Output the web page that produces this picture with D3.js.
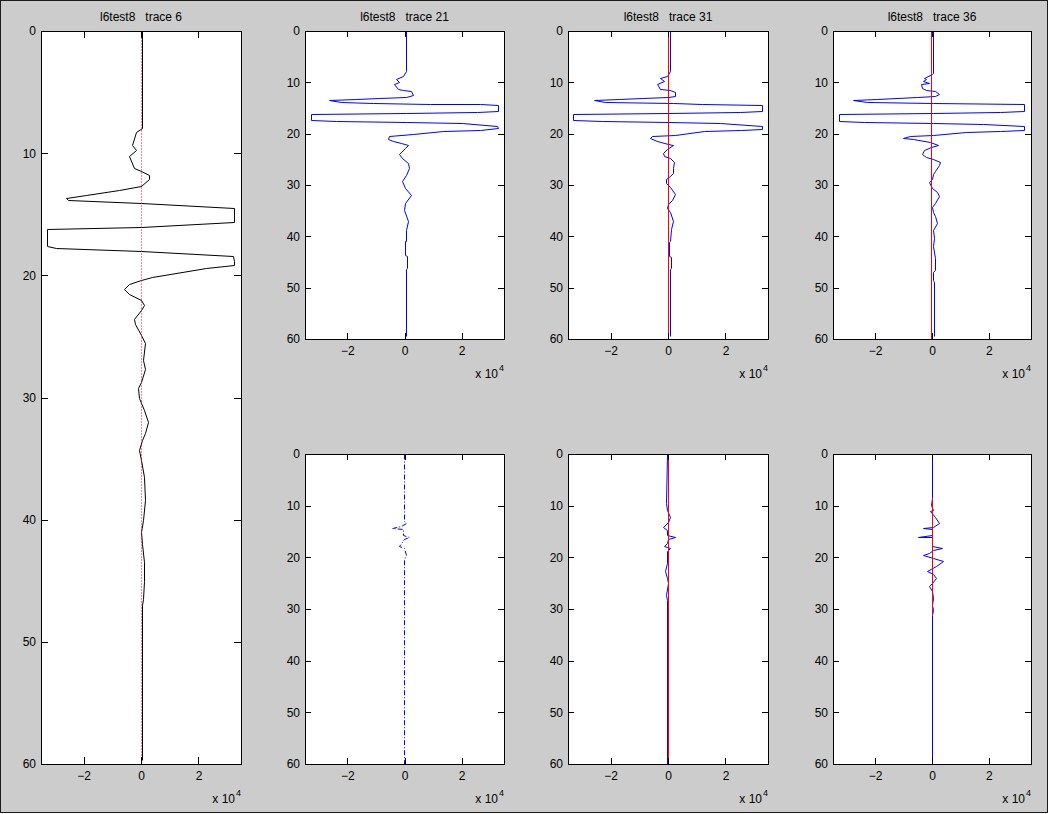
<!DOCTYPE html>
<html><head><meta charset="utf-8">
<script src="https://cdn.jsdelivr.net/npm/d3@7"></script>
<style>
html,body{margin:0;padding:0;background:#fff;}
svg{display:block;}
text{font-family:"Liberation Sans",Arial,sans-serif;fill:#000;}
</style></head><body>
<svg id="c" width="1049" height="814"></svg>
<script>
// ---- data (depth, amplitude in units of 10^4) ----
const xTicks = [-2, 0, 2];
const yTicks = [0, 10, 20, 30, 40, 50, 60];
const xDomain = [-3.48, 3.48];
const yDomain = [0, 60];
const titles = ["l6test8   trace 6", "l6test8   trace 21", "l6test8   trace 31", "l6test8   trace 36"];

const trace6 = [[0,0.045],[7.9,0.045],[8.3,-0.17],[9.3,-0.31],[9.7,-0.17],[10.25,-0.41],[11.2,-0.23],[11.5,0],[11.75,0.27],[12.15,0.27],[12.65,0],[13.0,-0.75],[13.4,-1.9],[13.66,-2.61],[13.8,-2.55],[14.12,0],[14.47,3.25],[15.65,3.25],[16.03,0],[16.17,-3.27],[17.62,-3.27],[17.75,-2.96],[18.03,0],[18.44,3.19],[18.85,3.25],[19.12,3.25],[19.4,2.26],[20.1,0.4],[20.4,0],[20.7,-0.41],[21.1,-0.58],[21.5,-0.41],[22.0,0],[22.4,0.11],[22.8,0],[23.6,-0.23],[24.0,-0.2],[24.9,0],[25.5,0.15],[26.9,0.08],[27.7,0.15],[28.7,0],[29.2,-0.12],[30.05,-0.06],[31.0,0.11],[32.0,0.23],[32.9,0.15],[33.5,0.035],[34.3,-0.06],[35.1,0],[36.5,0.11],[38.4,0.15],[40,0.08],[41,0.0],[42,0.02],[43.5,0.1],[45,0.12],[46.5,0.08],[47,0.045],[59.7,0.045]];

const trace21 = [[0,0.035],[7.8,0.035],[8.8,-0.06],[9.4,-0.29],[9.95,-0.18],[10.4,-0.35],[11.25,-0.24],[11.5,-0.06],[11.7,0.24],[12.4,0.29],[12.8,0.035],[13.0,-0.88],[13.2,-1.7],[13.5,-2.64],[13.8,-2.23],[14.0,-1.1],[14.2,0.88],[14.3,2.64],[14.4,3.26],[15.5,3.26],[15.7,2.52],[15.9,0.06],[16.1,-3.28],[17.25,-3.28],[17.6,-2.4],[17.7,0.04],[18.0,2.0],[18.55,3.23],[18.9,3.26],[19.3,2.64],[19.5,1.35],[20.1,0.29],[20.5,-0.53],[20.95,-0.59],[21.5,-0.41],[21.9,-0.12],[22.25,0.12],[22.8,0],[23.9,-0.18],[24.7,-0.08],[25.7,0.12],[26.7,0.14],[28.0,0.06],[29.3,-0.08],[30.6,0],[31.9,0.21],[33.5,0],[34.8,-0.02],[37.1,0.12],[38.7,0.035],[40.9,0.035],[41.0,0],[43.6,0],[43.9,0.07],[46.2,0.07],[46.4,0.035],[59.5,0.035]];

const trace31 = [[0,0.08],[7.8,0.08],[8.8,-0.04],[9.2,-0.27],[9.75,-0.13],[10.4,-0.39],[11.25,-0.27],[11.5,0.08],[11.8,0.25],[12.6,0.25],[12.85,0.0],[13.0,-0.9],[13.2,-1.7],[13.5,-2.59],[13.8,-2.2],[14.0,0.19],[14.2,1.2],[14.4,3.27],[15.6,3.27],[15.8,2.5],[15.9,0.0],[16.1,-3.29],[17.35,-3.29],[17.6,-2.3],[17.7,0.0],[18.0,1.8],[18.55,3.27],[19.0,3.27],[19.3,2.55],[19.5,1.25],[20.2,0.25],[20.55,-0.56],[20.9,-0.62],[21.5,-0.39],[22.0,0.0],[22.2,0.17],[23.0,-0.04],[23.8,-0.18],[24.3,-0.13],[24.8,0.08],[25.6,0.2],[26.6,0.17],[27.6,0.17],[28.3,0.08],[28.9,-0.06],[29.7,-0.06],[30.4,0.08],[31.8,0.25],[32.9,0.13],[33.7,-0.01],[34.5,-0.04],[35.2,0.08],[37.1,0.17],[38.6,0.1],[41.0,0.08],[41.1,0.05],[43.9,0.05],[44.0,0.1],[46.2,0.1],[46.4,0.08],[59.5,0.08]];

const trace36 = [[0,0.05],[8.1,0.05],[8.4,0.0],[9.1,-0.28],[9.4,-0.2],[9.75,-0.32],[10.1,-0.11],[10.4,-0.39],[11.05,-0.35],[11.4,-0.2],[11.7,0.11],[12.2,0.26],[12.7,0.11],[12.8,-0.53],[13.2,-1.95],[13.5,-2.78],[13.8,-2.3],[14.0,0.05],[14.3,3.24],[15.6,3.24],[15.8,2.4],[15.9,0.05],[16.1,-3.28],[17.6,-3.28],[17.75,-2.4],[17.9,0.05],[18.2,1.8],[18.55,3.24],[19.2,3.24],[19.4,2.4],[19.6,1.2],[20.2,0.05],[20.5,-0.78],[20.9,-1.01],[21.1,-0.66],[21.7,-0.07],[22.2,0.22],[22.6,-0.02],[23.2,-0.28],[23.9,-0.36],[24.5,-0.2],[24.9,0.05],[25.5,0.28],[26.2,0.26],[27.2,0.11],[27.8,0.05],[28.8,0.0],[29.5,-0.12],[30.5,0.0],[31.4,0.18],[32.1,0.24],[33.5,0.11],[34.2,0.0],[35.2,0.02],[36.1,0.11],[37.4,0.18],[38.7,0.05],[40.3,0.07],[41.9,0.05],[44.2,0.11],[46.5,0.11],[47.0,0.05],[48.6,0.05],[48.9,0.08],[59.5,0.08]];

const resid21 = [[0,-0.02],[13.0,-0.02],[13.4,0.04],[13.9,-0.12],[14.4,-0.45],[14.6,-0.04],[15.7,-0.04],[16.1,0.15],[16.4,-0.02],[17.8,-0.18],[18.1,-0.02],[19.6,0.04],[20.5,-0.02],[60,-0.02]];

const resid31 = [[0,-0.04],[9.5,-0.07],[10.8,-0.03],[12.1,0.07],[13.1,0.0],[14.2,-0.18],[14.7,-0.03],[15.7,-0.03],[16.1,0.25],[16.5,0.0],[17.2,-0.03],[17.8,-0.14],[18.2,0.07],[18.8,-0.03],[21.1,-0.03],[22.7,-0.1],[24.0,-0.03],[25.0,0.0],[27.3,-0.07],[28.2,-0.03],[60,-0.03]];

const resid36 = [[0,0.0],[8.5,-0.01],[9.8,-0.05],[10.8,0.02],[11.1,-0.07],[12.1,0.1],[13.3,0.26],[14.2,0.02],[14.4,-0.31],[14.6,0.0],[15.7,0.0],[16.0,-0.48],[16.05,0.0],[17.9,0.0],[18.2,0.34],[18.6,0.02],[19.1,-0.09],[19.6,-0.33],[20.1,0.02],[20.7,0.4],[21.7,0.13],[22.7,-0.16],[23.3,0.02],[24.0,0.13],[25.0,0.0],[25.6,-0.12],[26.5,0.0],[27.9,0.02],[29.2,0.0],[30.2,0.02],[31.2,0.0],[60,0.0]];

const zeroFull = [[0,0],[60,0]];
const zero36 = [[0,-0.02],[60,-0.02]];
const zeroPick36 = [[8.5,0.0],[31,0.0]];

// ---- layout ----
const svg = d3.select("#c");
svg.append("rect").attr("x",0).attr("y",0).attr("width",1049).attr("height",814).attr("fill","#fff");
svg.append("rect").attr("x",0.5).attr("y",0.5).attr("width",1047).attr("height",812)
  .attr("fill","#cccccc").attr("stroke","#1a1a1a");

const cols = [[41,241],[305,504],[568,768],[833,1031]];
const topRow = [31,339], botRow = [454,764], fullRow = [31,764];

const panels = [
  {c:0, r:fullRow, title:titles[0], tick:7, series:[
    {d:trace6, color:"#000"},
    {d:zeroFull, color:"#ff0000", dash:"1,2"}]},
  {c:1, r:topRow, title:titles[1], tick:6, series:[
    {d:trace21, color:"#0000ff"}]},
  {c:2, r:topRow, title:titles[2], tick:6, series:[
    {d:trace31, color:"#0000ff"},
    {d:zeroFull, color:"#ff0000"}]},
  {c:3, r:topRow, title:titles[3], tick:6, series:[
    {d:trace36, color:"#0000ff"},
    {d:zero36, color:"#ff0000"}]},
  {c:1, r:botRow, tick:6, series:[
    {d:resid21, color:"#0000ff", dash:"5,2,1,2"}]},
  {c:2, r:botRow, tick:6, series:[
    {d:resid31, color:"#0000ff"},
    {d:zeroFull, color:"#ff0000"}]},
  {c:3, r:botRow, tick:6, series:[
    {d:resid36, color:"#0000ff"},
    {d:zeroPick36, color:"#ff0000"}]}
];

panels.forEach(p => {
  const [x0,x1] = cols[p.c];
  const [y0,y1] = p.r;
  const x = d3.scaleLinear().domain(xDomain).range([x0,x1]);
  const y = d3.scaleLinear().domain(yDomain).range([y0,y1]);
  const g = svg.append("g");

  g.append("rect").attr("x",x0+0.5).attr("y",y0+0.5).attr("width",x1-x0).attr("height",y1-y0)
    .attr("fill","#fff");

  const line = d3.line()
    .x(d => Math.round(x(d[1])) + 0.5)
    .y(d => Math.round(y(d[0])) + 0.5);
  p.series.forEach(s => {
    g.append("path").attr("d", line(s.d)).attr("fill","none")
      .attr("stroke", s.color).attr("stroke-width",1)
      .attr("stroke-dasharray", s.dash || null)
      .attr("stroke-linejoin","miter");
  });

  const styleAxis = sel => {
    sel.select(".domain").remove();
    sel.selectAll("line").attr("stroke","#000").attr("shape-rendering","crispEdges");
    sel.selectAll("text").attr("font-family","'Liberation Sans',Arial,sans-serif").attr("font-size",12).attr("fill","#000");
  };
  g.append("g").attr("transform",`translate(${x0},0)`)
    .call(d3.axisLeft(y).tickValues(yTicks).tickSize(-p.tick).tickPadding(5).tickFormat(d3.format("d")))
    .call(styleAxis);
  g.append("g").attr("transform",`translate(${x1},0)`)
    .call(d3.axisRight(y).tickValues(yTicks.slice(1,-1)).tickSize(-p.tick).tickFormat(""))
    .call(styleAxis);
  g.append("g").attr("transform",`translate(0,${y1})`)
    .call(d3.axisBottom(x).tickValues(xTicks).tickSize(-p.tick).tickPadding(7.5).tickFormat(d3.format("d")))
    .call(styleAxis);
  g.append("g").attr("transform",`translate(0,${y0})`)
    .call(d3.axisTop(x).tickValues(xTicks).tickSize(-p.tick).tickFormat(""))
    .call(styleAxis);

  g.append("rect").attr("x",x0+0.5).attr("y",y0+0.5).attr("width",x1-x0).attr("height",y1-y0)
    .attr("fill","none").attr("stroke","#000").attr("shape-rendering","crispEdges");

  const ex = g.append("text").attr("x",x1).attr("y",y1+39).attr("text-anchor","end").attr("font-size",12);
  ex.append("tspan").text("x 10");
  ex.append("tspan").attr("dy",-7).attr("dx",1).attr("font-size",9).text("4");

  if (p.title) {
    g.append("text").attr("x",(x0+x1)/2).attr("y",20.5).attr("text-anchor","middle")
      .attr("font-size",12).style("white-space","pre").text(p.title);
  }
});
</script>
</body></html>
